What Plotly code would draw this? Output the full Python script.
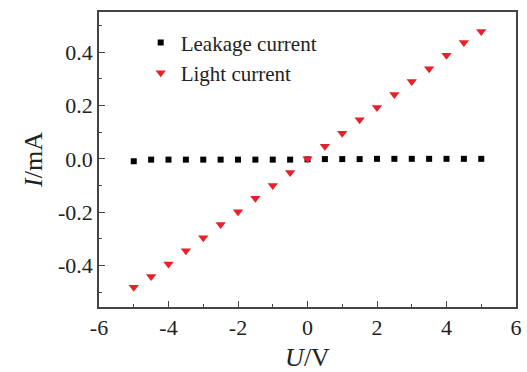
import plotly.graph_objects as go

voltage = [-5, -4.5, -4, -3.5, -3, -2.5, -2, -1.5, -1, -0.5, 0,
           0.5, 1, 1.5, 2, 2.5, 3, 3.5, 4, 4.5, 5]
leakage_current = [-0.009, -0.003, -0.003, -0.003, -0.003, -0.003, -0.003, -0.003, -0.003, -0.003, -0.002,
                   -0.001, -0.001, -0.001, 0.0, 0.0, 0.0, 0.0, 0.0, 0.0, 0.0]
light_current = [-0.481, -0.441, -0.394, -0.344, -0.296, -0.246, -0.198, -0.148, -0.100, -0.051, 0.0,
                 0.047, 0.096, 0.146, 0.192, 0.241, 0.290, 0.337, 0.388, 0.436, 0.477]

x_tickvals = [-6, -4, -2, 0, 2, 4, 6]
x_ticktext = ["-6", "-4", "-2", "0", "2", "4", "6"]
y_tickvals = [-0.4, -0.2, 0.0, 0.2, 0.4]
y_ticktext = ["-0.4", "-0.2", "0.0", "0.2", "0.4"]

FONT = "Liberation Serif, Times New Roman, serif"

fig = go.Figure()
fig.add_trace(go.Scatter(
    x=voltage, y=leakage_current, mode="markers", name="Leakage current",
    marker=dict(symbol="square", size=6, color="#000000"),
    legendgroup="a"))
fig.add_trace(go.Scatter(
    x=voltage, y=light_current, mode="markers", name="Light current",
    marker=dict(symbol="triangle-down", size=9, color="#e8202a"),
    legendgroup="b"))

axis_common = dict(
    showline=True, linecolor="#444444", linewidth=1.5, mirror=True,
    ticks="inside", ticklen=6, tickwidth=1.2, tickcolor="#444444",
    showgrid=False, zeroline=False, automargin=False,
    tickfont=dict(family=FONT, size=22, color="#222222"),
)

fig.update_xaxes(
    range=[-6, 6], tickmode="array", tickvals=x_tickvals, ticktext=x_ticktext,
    minor=dict(ticks="inside", ticklen=3.5, dtick=1, tick0=0, tickcolor="#444444", tickwidth=1.2),
    title=dict(text="<i>U</i>/V", font=dict(family=FONT, size=26, color="#222222"), standoff=14),
    **axis_common)
fig.update_yaxes(
    range=[-0.555, 0.55], tickmode="array", tickvals=y_tickvals, ticktext=y_ticktext,
    minor=dict(ticks="inside", ticklen=3.5, dtick=0.1, tick0=0, tickcolor="#444444", tickwidth=1.2),
    title=dict(text="<i>I</i>/mA", font=dict(family=FONT, size=26, color="#222222"), standoff=8),
    **axis_common)

fig.update_layout(
    width=527, height=372,
    margin=dict(l=99, r=11, t=12, b=65),
    paper_bgcolor="white", plot_bgcolor="white",
    font=dict(family=FONT, color="#222222"),
    showlegend=True,
    legend=dict(x=0.1, y=0.965, xanchor="left", yanchor="top",
                bgcolor="rgba(0,0,0,0)", font=dict(family=FONT, size=21, color="#222222"),
                tracegroupgap=0, traceorder="grouped"),
)

fig.write_html("out.html")
